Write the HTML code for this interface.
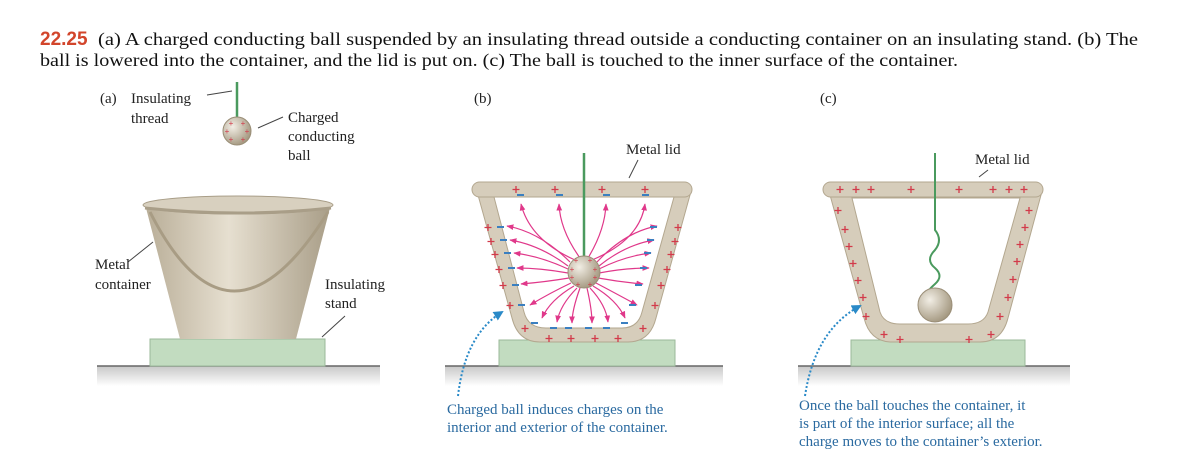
<!DOCTYPE html>
<html><head><meta charset="utf-8"><style>
body{margin:0;background:#fff;}
svg{display:block;}
.t{font-family:"Liberation Serif",serif;fill:#222;font-size:15px;}
.c{font-family:"Liberation Serif",serif;fill:#2a6aa0;font-size:15px;}
.h{font-family:"Liberation Serif",serif;fill:#111;font-size:17.5px;}
.p{fill:none;stroke:#d23a4a;stroke-width:1.3;}
.m{stroke:#3a7fc0;stroke-width:2;}
.f{stroke:#e0388a;stroke-width:1.2;fill:none;marker-end:url(#ar);}
</style></head><body>
<svg width="1202" height="470" viewBox="0 0 1202 470" xmlns="http://www.w3.org/2000/svg">
<defs>
<linearGradient id="bk" x1="0" x2="1"><stop offset="0" stop-color="#b9ae98"/><stop offset="0.45" stop-color="#e6dfd0"/><stop offset="1" stop-color="#a99e88"/></linearGradient>
<linearGradient id="gr" x1="0" y1="0" x2="0" y2="1"><stop offset="0" stop-color="#c8c8c8"/><stop offset="1" stop-color="#fff"/></linearGradient>
<radialGradient id="bl" cx="0.35" cy="0.35" r="0.7"><stop offset="0" stop-color="#f2eee5"/><stop offset="1" stop-color="#a3977f"/></radialGradient>
<marker id="ar" viewBox="0 0 10 10" refX="9" refY="5" markerWidth="6" markerHeight="6" orient="auto"><path d="M0,1 L10,5 L0,9 Z" fill="#e0388a"/></marker>
<marker id="ab" viewBox="0 0 10 10" refX="8" refY="5" markerWidth="5" markerHeight="5" orient="auto"><path d="M0,0 L10,5 L0,10 Z" fill="#2a8ac8"/></marker>
</defs>
<text x="40" y="45" class="h"><tspan font-family="Liberation Sans,sans-serif" font-weight="bold" fill="#d2452b" font-size="19">22.25</tspan></text>
<text x="98" y="45" class="h" textLength="1040" lengthAdjust="spacingAndGlyphs">(a) A charged conducting ball suspended by an insulating thread outside a conducting container on an insulating stand. (b) The</text>
<text x="40" y="66" class="h" textLength="918" lengthAdjust="spacingAndGlyphs">ball is lowered into the container, and the lid is put on. (c) The ball is touched to the inner surface of the container.</text>

<!-- ground -->
<rect x="97" y="366" width="283" height="20" fill="url(#gr)"/><line x1="97" y1="366" x2="380" y2="366" stroke="#666" stroke-width="1.5"/>
<rect x="445" y="366" width="278" height="20" fill="url(#gr)"/><line x1="445" y1="366" x2="723" y2="366" stroke="#666" stroke-width="1.5"/>
<rect x="798" y="366" width="272" height="20" fill="url(#gr)"/><line x1="798" y1="366" x2="1070" y2="366" stroke="#666" stroke-width="1.5"/>
<!-- stands -->
<rect x="150" y="339" width="175" height="27" fill="#c2dcc0" stroke="#9bb99a"/>
<rect x="499" y="340" width="176" height="26" fill="#c2dcc0" stroke="#9bb99a"/>
<rect x="851" y="340" width="174" height="26" fill="#c2dcc0" stroke="#9bb99a"/>

<!-- panel a -->
<text x="100" y="103" class="t" font-family="Liberation Sans,sans-serif">(a)</text>
<text x="131" y="103" class="t">Insulating</text><text x="131" y="123" class="t">thread</text>
<line x1="207" y1="95" x2="232" y2="91" stroke="#444"/>
<line x1="237" y1="82" x2="237" y2="118" stroke="#4a9a5e" stroke-width="2.5"/>
<circle cx="237" cy="131" r="14" fill="url(#bl)" stroke="#9a8e77"/>
<g font-size="8" fill="#d23a4a" font-family="Liberation Sans,sans-serif" text-anchor="middle"><text x="231" y="126">+</text><text x="243" y="126">+</text><text x="227" y="134">+</text><text x="247" y="134">+</text><text x="231" y="142">+</text><text x="243" y="142">+</text></g>
<line x1="258" y1="128" x2="283" y2="117" stroke="#444"/>
<text x="288" y="122" class="t">Charged</text><text x="288" y="141" class="t">conducting</text><text x="288" y="160" class="t">ball</text>
<path d="M146,208 L330,208 L296,339 L180,339 Z" fill="url(#bk)"/>
<ellipse cx="238" cy="205" rx="95" ry="9" fill="#d8d0bf" stroke="#a99e88"/>
<path d="M145,208 Q238,218 331,208" fill="none" stroke="#a99e88" stroke-width="3"/>
<path d="M150,212 Q230,370 328,212" fill="none" stroke="#a89c84" stroke-width="3"/>
<line x1="128" y1="262" x2="153" y2="242" stroke="#444"/>
<text x="95" y="269" class="t">Metal</text><text x="95" y="289" class="t">container</text>
<text x="325" y="289" class="t">Insulating</text><text x="325" y="308" class="t">stand</text>
<line x1="345" y1="316" x2="322" y2="337" stroke="#444"/>

<!-- panel b -->
<text x="474" y="103" class="t" font-family="Liberation Sans,sans-serif">(b)</text>
<text x="626" y="154" class="t">Metal lid</text>
<line x1="638" y1="160" x2="629" y2="178" stroke="#444"/>
<path d="M478,195 L512,318 Q518,342 540,342 L628,342 Q650,342 656,318 L690,195 Z" fill="#d6cdbb" stroke="#b3a78f"/>
<path d="M494,197 L524,312 Q528,328 546,328 L622,328 Q638,328 642,312 L674,197 Z" fill="#fff" stroke="#b3a78f"/>
<rect x="472" y="182" width="220" height="15" rx="7.5" fill="#d6cdbb" stroke="#b3a78f"/>
<line x1="584" y1="153" x2="584" y2="262" stroke="#4a9a5e" stroke-width="2.5"/>
<g>
<path class="f" d="M575,260 Q530,240 521,204"/><path class="f" d="M580,258 Q560,230 559,204"/>
<path class="f" d="M588,258 Q605,230 606,204"/><path class="f" d="M592,260 Q640,240 645,204"/>
<path class="f" d="M570,262 Q540,232 507,226"/><path class="f" d="M568,266 Q540,245 510,240"/><path class="f" d="M568,269 Q540,256 514,253"/><path class="f" d="M568,273 Q540,268 517,268"/><path class="f" d="M569,278 Q545,282 521,284"/><path class="f" d="M571,283 Q550,293 530,305"/>
<path class="f" d="M597,262 Q625,232 657,226"/><path class="f" d="M599,266 Q625,245 654,240"/><path class="f" d="M599,269 Q625,256 651,253"/><path class="f" d="M599,273 Q625,268 649,268"/><path class="f" d="M598,278 Q620,282 643,284"/><path class="f" d="M596,283 Q615,293 637,305"/>
<path class="f" d="M574,286 Q550,300 542,318"/><path class="f" d="M577,288 Q560,305 557,322"/><path class="f" d="M580,288 Q572,310 572,323"/><path class="f" d="M587,288 Q592,310 592,323"/><path class="f" d="M590,288 Q606,305 608,322"/><path class="f" d="M593,286 Q617,300 625,318"/>
</g>
<circle cx="584" cy="272" r="16" fill="url(#bl)" stroke="#9a8e77"/>
<g font-size="8" fill="#d23a4a" font-family="Liberation Sans,sans-serif" text-anchor="middle"><text x="576" y="263">+</text><text x="590" y="263">+</text><text x="572" y="272">+</text><text x="595" y="272">+</text><text x="572" y="280">+</text><text x="595" y="280">+</text><text x="578" y="287">+</text><text x="590" y="287">+</text></g>
<g class="p"><path d="M516,186v7M512.5,189.5h7 M555,186v7M551.5,189.5h7 M602,186v7M598.5,189.5h7 M645,186v7M641.5,189.5h7"/>
<path d="M488,224v7M484.5,227.5h7 M491,238v7M487.5,241.5h7 M495,251v7M491.5,254.5h7 M499,266v7M495.5,269.5h7 M503,282v7M499.5,285.5h7 M510,302v7M506.5,305.5h7 M525,325v7M521.5,328.5h7"/>
<path d="M678,224v7M674.5,227.5h7 M675,238v7M671.5,241.5h7 M671,251v7M667.5,254.5h7 M667,266v7M663.5,269.5h7 M661,282v7M657.5,285.5h7 M655,302v7M651.5,305.5h7 M643,325v7M639.5,328.5h7"/>
<path d="M549,335v7M545.5,338.5h7 M571,335v7M567.5,338.5h7 M595,335v7M591.5,338.5h7 M618,335v7M614.5,338.5h7"/></g>
<g class="m"><path d="M517,195h7 M556,195h7 M603,195h7 M642,195h7 M497,227h7 M500,240h7 M504,253h7 M508,268h7 M512,285h7 M518,305h7 M650,227h7 M647,240h7 M644,253h7 M640,268h7 M635,285h7 M629,305h7 M531,323h7 M550,328h7 M565,328h7 M585,328h7 M603,328h7 M621,323h7"/></g>
<path d="M458,396 Q465,335 502,312" fill="none" stroke="#2a8ac8" stroke-width="2" stroke-dasharray="2,2" marker-end="url(#ab)"/>
<text x="447" y="414" class="c">Charged ball induces charges on the</text>
<text x="447" y="432" class="c">interior and exterior of the container.</text>

<!-- panel c -->
<text x="820" y="103" class="t" font-family="Liberation Sans,sans-serif">(c)</text>
<text x="975" y="164" class="t">Metal lid</text>
<line x1="988" y1="170" x2="979" y2="177" stroke="#444"/>
<path d="M830,195 L864,318 Q870,342 892,342 L980,342 Q1002,342 1008,318 L1041,195 Z" fill="#d6cdbb" stroke="#b3a78f"/>
<path d="M852,198 L880,312 Q884,324 900,324 L968,324 Q984,324 988,312 L1020,198 Z" fill="#fff" stroke="#b3a78f"/>
<rect x="823" y="182" width="220" height="15" rx="7.5" fill="#d6cdbb" stroke="#b3a78f"/>
<path d="M935,153 L935,230 Q943,240 935,250 Q925,260 935,268 Q944,276 935,284 Q926,292 930,292" fill="none" stroke="#4a9a5e" stroke-width="2"/>
<circle cx="935" cy="305" r="17" fill="url(#bl)" stroke="#9a8e77"/>
<g class="p"><path d="M840,186v7M836.5,189.5h7 M856,186v7M852.5,189.5h7 M871,186v7M867.5,189.5h7 M911,186v7M907.5,189.5h7 M959,186v7M955.5,189.5h7 M993,186v7M989.5,189.5h7 M1009,186v7M1005.5,189.5h7 M1024,186v7M1020.5,189.5h7"/>
<path d="M838,207v7M834.5,210.5h7 M845,226v7M841.5,229.5h7 M849,243v7M845.5,246.5h7 M853,260v7M849.5,263.5h7 M858,277v7M854.5,280.5h7 M863,294v7M859.5,297.5h7 M866,313v7M862.5,316.5h7 M884,331v7M880.5,334.5h7 M900,336v7M896.5,339.5h7"/>
<path d="M1029,207v7M1025.5,210.5h7 M1025,224v7M1021.5,227.5h7 M1020,241v7M1016.5,244.5h7 M1017,258v7M1013.5,261.5h7 M1013,276v7M1009.5,279.5h7 M1008,294v7M1004.5,297.5h7 M1000,313v7M996.5,316.5h7 M991,331v7M987.5,334.5h7 M969,336v7M965.5,339.5h7"/></g>
<path d="M805,396 Q815,330 860,306" fill="none" stroke="#2a8ac8" stroke-width="2" stroke-dasharray="2,2" marker-end="url(#ab)"/>
<text x="799" y="410" class="c">Once the ball touches the container, it</text>
<text x="799" y="428" class="c">is part of the interior surface; all the</text>
<text x="799" y="446" class="c">charge moves to the container’s exterior.</text>
</svg>
</body></html>
